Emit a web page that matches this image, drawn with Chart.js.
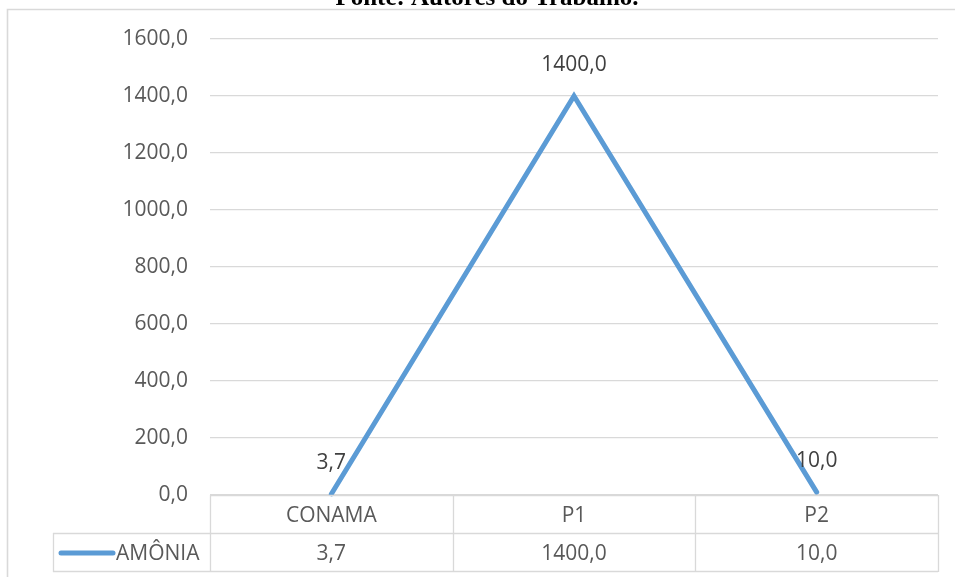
<!DOCTYPE html>
<html lang="pt">
<head>
<meta charset="utf-8">
<title>AMÔNIA</title>
<script src="https://cdn.jsdelivr.net/npm/chart.js@4/dist/chart.umd.min.js"></script>
<style>
  html, body { margin: 0; padding: 0; background: #ffffff; }
  #wrap { position: relative; width: 955px; height: 577px; overflow: hidden; }
  canvas { display: block; }
</style>
</head>
<body>
<div id="wrap"><canvas id="chart" width="955" height="577"></canvas></div>
<script>
// Pontos de coleta e concentração de amônia
const categories = ['CONAMA', 'P1', 'P2'];
const amonia = [3.7, 1400.0, 10.0];
const seriesName = 'AMÔNIA';
const yTicks = [0, 200, 400, 600, 800, 1000, 1200, 1400, 1600];
const caption = 'Fonte: Autores do Trabalho.';

const FONT = '"Open Sans", "Liberation Sans", sans-serif';
const TEXT_GREY = '#595959';
const LINE_BLUE = '#5b9bd5';
const RULE_GREY = '#d9d9d9';

const fmt = v => v.toFixed(1).replace('.', ',');

// Moldura, legenda, tabela de dados e rótulos de valor
const tablePlugin = {
  id: 'dataTable',
  afterDraw(chart) {
    const ctx = chart.ctx;
    const area = chart.chartArea;
    const xs = chart.scales.x;
    const ys = chart.scales.y;
    const colW = (area.right - area.left) / categories.length;
    const headTop = area.bottom;
    const rowTop = headTop + 38;
    const rowBottom = rowTop + 38;
    const legendLeft = 53;

    ctx.save();
    // moldura externa
    ctx.strokeStyle = RULE_GREY;
    ctx.lineWidth = 1.6;
    ctx.beginPath();
    ctx.moveTo(955, 9.5);
    ctx.lineTo(7.5, 9.5);
    ctx.lineTo(7.5, 577);
    ctx.stroke();

    // grade da tabela
    ctx.lineWidth = 1.3;
    ctx.beginPath();
    ctx.moveTo(area.left, headTop + 0.5);
    ctx.lineTo(area.right, headTop + 0.5);
    ctx.moveTo(legendLeft, rowTop + 0.5);
    ctx.lineTo(area.right, rowTop + 0.5);
    ctx.moveTo(legendLeft, rowBottom + 0.5);
    ctx.lineTo(area.right, rowBottom + 0.5);
    for (let k = 0; k <= categories.length; k++) {
      const x = Math.round(area.left + k * colW) + 0.5;
      ctx.moveTo(x, headTop);
      ctx.lineTo(x, rowBottom + 1);
    }
    ctx.moveTo(legendLeft + 0.5, rowTop);
    ctx.lineTo(legendLeft + 0.5, rowBottom + 1);
    ctx.stroke();

    // textos da tabela
    ctx.font = '21px ' + FONT;
    ctx.fillStyle = TEXT_GREY;
    ctx.textAlign = 'center';
    ctx.textBaseline = 'middle';
    categories.forEach((c, i) => {
      const x = xs.getPixelForValue(i);
      ctx.fillText(c, x, (headTop + rowTop) / 2 + 2);
      ctx.fillText(fmt(amonia[i]), x, (rowTop + rowBottom) / 2 + 2);
    });

    // chave da legenda
    const ly = (rowTop + rowBottom) / 2 + 1;
    ctx.strokeStyle = LINE_BLUE;
    ctx.lineWidth = 5;
    ctx.lineCap = 'round';
    ctx.beginPath();
    ctx.moveTo(61, ly);
    ctx.lineTo(113, ly);
    ctx.stroke();
    ctx.textAlign = 'left';
    ctx.fillText(seriesName, 116, ly + 1);

    // rótulos de valor sobre os pontos
    ctx.fillStyle = '#404040';
    ctx.textAlign = 'center';
    amonia.forEach((v, i) => {
      ctx.fillText(fmt(v), xs.getPixelForValue(i), ys.getPixelForValue(v) - 31);
    });

    // legenda da fonte (cortada no topo)
    ctx.fillStyle = '#000000';
    ctx.font = 'bold 25px "Liberation Serif", "Times New Roman", serif';
    ctx.textBaseline = 'alphabetic';
    ctx.fillText(caption, 487, 5);
    ctx.restore();
  }
};

new Chart(document.getElementById('chart'), {
  type: 'line',
  data: {
    labels: categories,
    datasets: [{
      label: seriesName,
      data: amonia,
      borderColor: LINE_BLUE,
      backgroundColor: LINE_BLUE,
      borderWidth: 5,
      borderCapStyle: 'round',
      borderJoinStyle: 'miter',
      pointRadius: 0,
      pointHoverRadius: 0,
      tension: 0,
      clip: false
    }]
  },
  options: {
    responsive: false,
    animation: false,
    events: [],
    layout: { padding: { left: 0, top: 39, right: 17, bottom: 0 } },
    plugins: {
      legend: { display: false },
      title: { display: false },
      tooltip: { enabled: false }
    },
    scales: {
      x: {
        type: 'category',
        offset: true,
        grid: { display: false, drawTicks: false },
        border: { display: false },
        ticks: { display: false },
        afterFit(scale) { scale.height = 82; }
      },
      y: {
        min: 0,
        max: 1600,
        afterBuildTicks(scale) { scale.ticks = yTicks.map(v => ({ value: v })); },
        grid: { color: RULE_GREY, lineWidth: 1.3, drawTicks: false },
        border: { display: false },
        ticks: {
          padding: 22,
          color: TEXT_GREY,
          font: { family: FONT, size: 21 },
          callback: v => fmt(v)
        },
        afterFit(scale) { scale.width = 210; }
      }
    }
  },
  plugins: [tablePlugin]
});
</script>
</body>
</html>
